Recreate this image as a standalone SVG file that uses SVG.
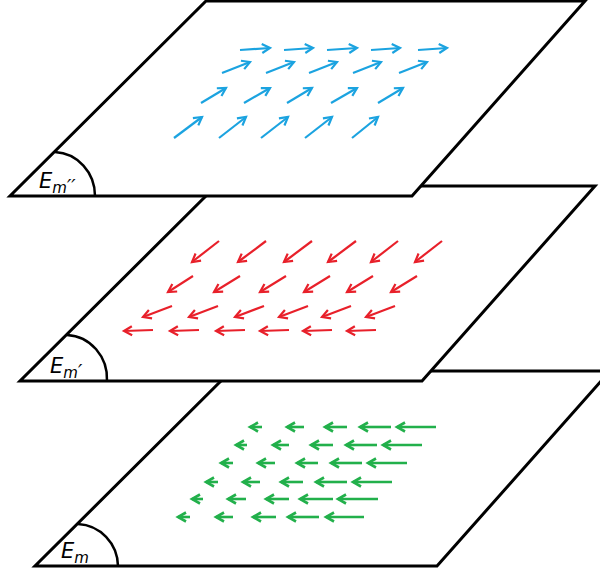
<svg xmlns="http://www.w3.org/2000/svg" width="600" height="574" viewBox="0 0 600 574">
<style>
.plane{fill:#fff;stroke:#000;stroke-width:3;stroke-linejoin:miter}
.arc{fill:none;stroke:#000;stroke-width:2.5}
.lbl{font-family:"DejaVu Sans",sans-serif;font-style:italic;fill:#000}
.b line{stroke:#1ba3e0;stroke-width:2.2;marker-end:url(#hb)}
.r line{stroke:#e8202a;stroke-width:2.2;marker-end:url(#hr)}
.g line{stroke:#22b04b;stroke-width:2.6;marker-end:url(#hg)}
</style>
<defs>
<marker id="hb" markerUnits="userSpaceOnUse" markerWidth="14" markerHeight="14" refX="0" refY="0" viewBox="-10 -7 14 14" orient="auto" overflow="visible"><path d="M-8,-4.5 L0,0 L-8,4.5" fill="none" stroke="#1ba3e0" stroke-width="2.2"/></marker>
<marker id="hr" markerUnits="userSpaceOnUse" markerWidth="14" markerHeight="14" refX="0" refY="0" viewBox="-10 -7 14 14" orient="auto" overflow="visible"><path d="M-8,-4.5 L0,0 L-8,4.5" fill="none" stroke="#e8202a" stroke-width="2.2"/></marker>
<marker id="hg" markerUnits="userSpaceOnUse" markerWidth="14" markerHeight="14" refX="0" refY="0" viewBox="-10 -7 14 14" orient="auto" overflow="visible"><path d="M-8,-4.5 L0,0 L-8,4.5" fill="none" stroke="#22b04b" stroke-width="2.6"/></marker>
</defs>

<g id="plane-m">
<polygon class="plane" points="231,371 610,371 437,566 35,566"/>
<path class="arc" d="M78,524 A42,43 0 0 1 118,566"/>
<text class="lbl" x="61" y="558" font-size="21">E<tspan font-size="15" dy="5">m</tspan></text>
</g>
<g id="vectors-m" class="g">
<line x1="262" y1="427" x2="250" y2="427"/><line x1="304" y1="427" x2="287" y2="427"/><line x1="347" y1="427" x2="325" y2="427"/><line x1="391" y1="427" x2="360" y2="427"/><line x1="436" y1="427" x2="397" y2="427"/>
<line x1="247" y1="445" x2="236" y2="445"/><line x1="289" y1="445" x2="273" y2="445"/><line x1="333" y1="445" x2="311" y2="445"/><line x1="377" y1="445" x2="346" y2="445"/><line x1="422" y1="445" x2="383" y2="445"/>
<line x1="233" y1="463" x2="221" y2="463"/><line x1="275" y1="463" x2="258" y2="463"/><line x1="318" y1="463" x2="297" y2="463"/><line x1="362" y1="463" x2="331" y2="463"/><line x1="407" y1="463" x2="368" y2="463"/>
<line x1="218" y1="482" x2="206" y2="482"/><line x1="260" y1="482" x2="243" y2="482"/><line x1="303" y1="482" x2="281" y2="482"/><line x1="347" y1="482" x2="316" y2="482"/><line x1="392" y1="482" x2="353" y2="482"/>
<line x1="203" y1="499" x2="192" y2="499"/><line x1="246" y1="499" x2="228" y2="499"/><line x1="289" y1="499" x2="266" y2="499"/><line x1="333" y1="499" x2="300" y2="499"/><line x1="378" y1="499" x2="338" y2="499"/>
<line x1="190" y1="517" x2="178" y2="517"/><line x1="233" y1="517" x2="216" y2="517"/><line x1="276" y1="517" x2="253" y2="517"/><line x1="319" y1="517" x2="288" y2="517"/><line x1="364" y1="517" x2="326" y2="517"/>
</g>

<g id="plane-m1">
<polygon class="plane" points="216,186 595,186 422,381 20,381"/>
<path class="arc" d="M67,335 A42,44 0 0 1 107,381"/>
<text class="lbl" x="50" y="373" font-size="21">E<tspan font-size="15" dy="5">m</tspan><tspan font-size="19">′</tspan></text>
</g>
<g id="vectors-m1" class="r">
<line x1="219" y1="241" x2="192" y2="262"/><line x1="266" y1="241" x2="238" y2="262"/><line x1="312" y1="241" x2="284" y2="262"/><line x1="356" y1="241" x2="328" y2="262"/><line x1="398" y1="241" x2="371" y2="262"/><line x1="442" y1="241" x2="415" y2="262"/>
<line x1="193" y1="276" x2="168" y2="292"/><line x1="240" y1="276" x2="214" y2="292"/><line x1="286" y1="276" x2="260" y2="292"/><line x1="330" y1="276" x2="304" y2="292"/><line x1="373" y1="276" x2="347" y2="292"/><line x1="417" y1="276" x2="391" y2="292"/>
<line x1="172" y1="306" x2="143" y2="317"/><line x1="218" y1="306" x2="189" y2="317"/><line x1="264" y1="306" x2="235" y2="317"/><line x1="308" y1="306" x2="279" y2="317"/><line x1="351" y1="306" x2="322" y2="317"/><line x1="395" y1="306" x2="366" y2="317"/>
<line x1="153" y1="330" x2="124" y2="331"/><line x1="199" y1="330" x2="170" y2="331"/><line x1="245" y1="330" x2="216" y2="331"/><line x1="289" y1="330" x2="260" y2="331"/><line x1="332" y1="330" x2="303" y2="331"/><line x1="376" y1="330" x2="347" y2="331"/>
</g>

<g id="plane-m2">
<polygon class="plane" points="206,1 585,1 412,196 10,196"/>
<path class="arc" d="M55,152 A42,44 0 0 1 95,196"/>
<text class="lbl" x="39" y="188" font-size="21">E<tspan font-size="15" dy="5">m</tspan><tspan font-size="19">′′</tspan></text>
</g>
<g id="vectors-m2" class="b">
<line x1="240" y1="50" x2="270" y2="48"/><line x1="284" y1="50" x2="313" y2="48"/><line x1="327" y1="50" x2="357" y2="48"/><line x1="371" y1="50" x2="400" y2="48"/><line x1="418" y1="50" x2="447" y2="48"/>
<line x1="222" y1="73" x2="250" y2="62"/><line x1="266" y1="73" x2="294" y2="62"/><line x1="309" y1="73" x2="337" y2="62"/><line x1="353" y1="73" x2="381" y2="62"/><line x1="399" y1="73" x2="427" y2="62"/>
<line x1="201" y1="103" x2="226" y2="88"/><line x1="244" y1="103" x2="270" y2="88"/><line x1="287" y1="103" x2="312" y2="88"/><line x1="331" y1="103" x2="357" y2="88"/><line x1="378" y1="103" x2="403" y2="88"/>
<line x1="174" y1="138" x2="202" y2="117"/><line x1="219" y1="138" x2="246" y2="117"/><line x1="261" y1="138" x2="288" y2="117"/><line x1="305" y1="138" x2="332" y2="117"/><line x1="352" y1="138" x2="378" y2="117"/>
</g>
</svg>
